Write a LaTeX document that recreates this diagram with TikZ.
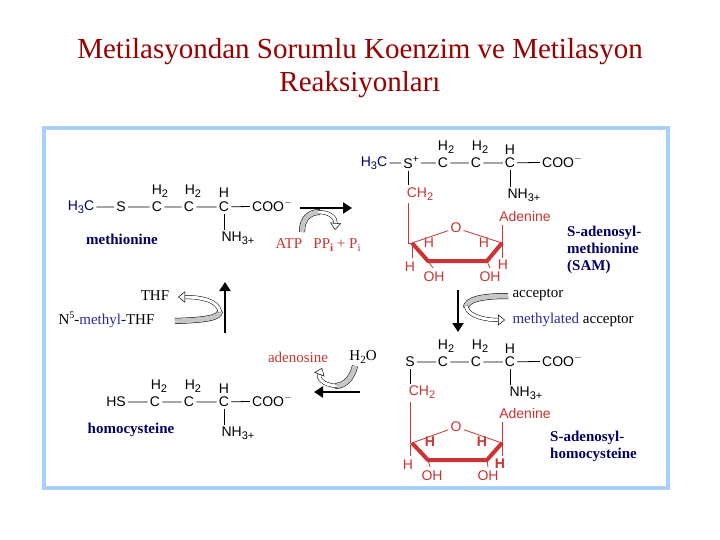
\documentclass[tikz,border=0pt]{standalone}
\usepackage{fontspec}
\setmainfont{Liberation Serif}
\setsansfont{Liberation Sans}
\usetikzlibrary{arrows.meta}
\definecolor{ttl}{HTML}{990000}
\definecolor{nv}{HTML}{000066}
\definecolor{rd}{HTML}{CC3333}
\definecolor{frm}{HTML}{A8D0F8}
\definecolor{bl}{HTML}{2A2AA0}
\newcommand\sbs[1]{\raisebox{-0.35ex}{\fontsize{11}{11}\selectfont #1}}
\newcommand\sps[1]{\raisebox{0.8ex}{\fontsize{10}{10}\selectfont #1}}
\tikzset{
 atm/.style={font=\sffamily\fontsize{14}{14}\selectfont, inner sep=2pt},
 lbl/.style={font=\bfseries\fontsize{15}{17}\selectfont, text=nv, align=left, inner sep=0pt},
 txt/.style={font=\fontsize{15}{15}\selectfont},
 bond/.style={line width=0.8pt},
 rbond/.style={line width=0.8pt, draw=rd},
 big/.style={line width=2.2pt,-{Triangle[length=9pt,width=11pt]}},
 band/.style={line width=0.5pt, double=gray!45, double distance=5pt},
 wband/.style={line width=0.5pt, double=white, double distance=3pt, -{Triangle[open,length=7pt,width=11pt]}},
}
\begin{document}
\begin{tikzpicture}[x=1pt,y=-1pt]
\useasboundingbox (0,0) rectangle (720,540);
\fill[white] (0,0) rectangle (720,540);
\node[font=\fontsize{29}{33}\selectfont, text=ttl, align=center] (t) at (360,68) {Metilasyondan Sorumlu Koenzim ve Metilasyon\\Reaksiyonları};
\draw[frm, line width=4pt] (44,128) rectangle (668,488);

% methionine
\node[atm,text=nv] (m1) at (81,207) {H\sbs{3}C};
\node[atm] (m2) at (121,207) {S};
\node[atm] (m3) at (157,207) {C};
\node[atm] (m4) at (189,207) {C};
\node[atm] (m5) at (224,207) {C};
\node[atm] (m6) at (272,206) {COO\sps{$-$}};
\node[atm] (m3h) at (160,191) {H\sbs{2}};
\node[atm] (m4h) at (193,191) {H\sbs{2}};
\node[atm] (m5h) at (224,193) {H};
\node[atm] (m5n) at (238,238) {NH\sbs{3+}};
\draw[bond] (m1)--(m2) (m2)--(m3) (m3)--(m4) (m4)--(m5) (m5)--(m6);
\draw[bond] (m5.south) -- (m5.south |- m5n.north);
\node[lbl] (ml) at (122,239) {methionine};

% arrow met -> SAM
\coordinate (a1) at (300,208); \coordinate (a2) at (352,208);
\draw[big] (a1)--(a2);
\draw[band] (302,232) .. controls (302,218) and (310,212) .. (320,212);
\draw[wband] (318,212) .. controls (330,212) and (336,218) .. (335,230);
\node[txt, text=rd, anchor=west] (atp) at (272,245) {ATP\enspace\ PP\sbs{\textbf{i}} + P\sbs{i}};

% SAM
\node[atm,text=nv] (s1) at (374,163) {H\sbs{3}C};
\node[atm] (s2) at (411,163) {S\sps{+}};
\node[atm] (s3) at (443,163) {C};
\node[atm] (s4) at (476,163) {C};
\node[atm] (s5) at (510,163) {C};
\node[atm] (s6) at (562,162) {COO\sps{$-$}};
\node[atm] (s3h) at (446,147) {H\sbs{2}};
\node[atm] (s4h) at (480,147) {H\sbs{2}};
\node[atm] (s5h) at (510,150) {H};
\node[atm] (s5n) at (524,195) {NH\sbs{3+}};
\draw[bond] (s1)--(s2) (s2)--(s3) (s3)--(s4) (s4)--(s5) (s5)--(s6);
\draw[bond] (s5.south) -- (s5.south |- s5n.north);
\node[atm,text=rd] (sc) at (420,194) {CH\sbs{2}};
\draw[bond] (408,171) -- (408,185);
\node[lbl] (sl) at (567,250) [anchor=west] {S-adenosyl-\\methionine\\(SAM)};
% ring SAM
\node[atm,text=rd] (o1) at (456,228) {O};
\coordinate (l1) at (412,243); \coordinate (r1) at (502,243);
\coordinate (bl1) at (428,261); \coordinate (br1) at (487,261);
\draw[rbond] (408,203) -- (408,243) -- (l1);
\draw[rbond] (l1) -- (o1) -- (r1);
\draw[rd, line width=4pt, line join=round] (l1) -- (bl1) -- (br1) -- (r1);
\draw[rbond] (r1) -- (502,225);
\node[atm,text=rd] (ad1) at (525,216) {Adenine};
\node[atm,text=rd] (h1a) at (429,243) {H};
\node[atm,text=rd] (h1b) at (484,243) {H};
\draw[rbond] (412,245)--(412,258);
\node[atm,text=rd] (h1c) at (410,267) {H};
\draw[rbond] (bl1)--(433,268);
\node[atm,text=rd] (oh1a) at (434,277) {OH};
\draw[rbond] (br1)--(490,268);
\node[atm,text=rd] (oh1b) at (490,277) {OH};
\draw[rbond] (r1)--(502,258);
\node[atm,text=rd] (h1d) at (503,265) {H};

% SAM -> SAH
\draw[big] (458,290) -- (458,332);
\draw[band] (508,296) .. controls (480,296) and (466,300) .. (466,308);
\draw[wband] (466,306) .. controls (468,318) and (490,320) .. (505,320);
\node[txt, anchor=west] (acc) at (509,295) {acceptor};
\node[txt, anchor=west] (macc) at (509,320) {\textcolor{bl}{methylated} acceptor};

% homocysteine -> methionine
\draw[big] (225,333) -- (225,282);
\node[txt] (thf) at (155,296) {THF};
\node[txt, anchor=west] (n5) at (55,320) {N\sps{5}-\textcolor{bl}{methyl}-THF};
\draw[band] (175,321) .. controls (205,320) and (220,318) .. (220,311);
\draw[wband] (220,312) .. controls (218,300) and (200,297) .. (178,297);

% SAH -> homocysteine
\draw[big] (360,392) -- (314,392);
\node[txt, text=rd] (ado) at (298,357) {adenosine};
\node[txt] (h2o) at (363,357) {H\sbs{2}O};
\draw[band] (355,366) .. controls (352,378) and (345,386) .. (335,386);
\draw[wband] (337,386) .. controls (322,385) and (318,378) .. (322,368);

% SAH
\node[atm] (h2) at (410,362) {S};
\node[atm] (h3) at (443,362) {C};
\node[atm] (h4) at (476,362) {C};
\node[atm] (h5) at (510,362) {C};
\node[atm] (h6) at (562,361) {COO\sps{$-$}};
\node[atm] (h3h) at (446,346) {H\sbs{2}};
\node[atm] (h4h) at (480,346) {H\sbs{2}};
\node[atm] (h5h) at (510,349) {H};
\node[atm] (h5n) at (526,393) {NH\sbs{3+}};
\draw[bond] (h2)--(h3) (h3)--(h4) (h4)--(h5) (h5)--(h6);
\draw[bond] (h5.south) -- (h5.south |- h5n.north);
\draw[bond] (h2.south) -- (410,384);
\node[atm,text=rd] (hc) at (422,392) {CH\sbs{2}};
\node[lbl] (hl) at (550,446) [anchor=west] {S-adenosyl-\\homocysteine};
\node[atm,text=rd] (o2) at (456,427) {O};
\coordinate (l2) at (412,443); \coordinate (r2) at (502,443);
\coordinate (bl2) at (428,460); \coordinate (br2) at (487,460);
\draw[rbond] (410,402) -- (410,443) -- (l2);
\draw[rbond] (l2) -- (o2) -- (r2);
\draw[rd, line width=4pt, line join=round] (l2) -- (bl2) -- (br2) -- (r2);
\draw[rbond] (r2) -- (502,422);
\node[atm,text=rd] (ad2) at (525,413) {Adenine};
\node[atm,text=rd,font=\sffamily\bfseries\fontsize{14}{14}\selectfont] (h2a) at (430,442) {H};
\node[atm,text=rd,font=\sffamily\bfseries\fontsize{14}{14}\selectfont] (h2b) at (482,442) {H};
\draw[rbond] (410,445)--(410,456);
\node[atm,text=rd] (h2c) at (408,465) {H};
\draw[rbond] (bl2)--(430,467);
\node[atm,text=rd] (oh2a) at (432,476) {OH};
\draw[rbond] (br2)--(488,467);
\node[atm,text=rd] (oh2b) at (488,476) {OH};
\draw[rbond] (r2)--(502,456);
\node[atm,text=rd,font=\sffamily\bfseries\fontsize{14}{14}\selectfont] (h2d) at (500,464) {H};

% homocysteine
\node[atm] (c1) at (116,402) {HS};
\node[atm] (c3) at (155,402) {C};
\node[atm] (c4) at (189,402) {C};
\node[atm] (c5) at (224,402) {C};
\node[atm] (c6) at (272,401) {COO\sps{$-$}};
\node[atm] (c3h) at (159,386) {H\sbs{2}};
\node[atm] (c4h) at (193,386) {H\sbs{2}};
\node[atm] (c5h) at (224,389) {H};
\node[atm] (c5n) at (238,433) {NH\sbs{3+}};
\draw[bond] (c1)--(c3) (c3)--(c4) (c4)--(c5) (c5)--(c6);
\draw[bond] (c5.south) -- (c5.south |- c5n.north);
\node[lbl] (cl) at (131,430) {homocysteine};
\end{tikzpicture}
\end{document}
